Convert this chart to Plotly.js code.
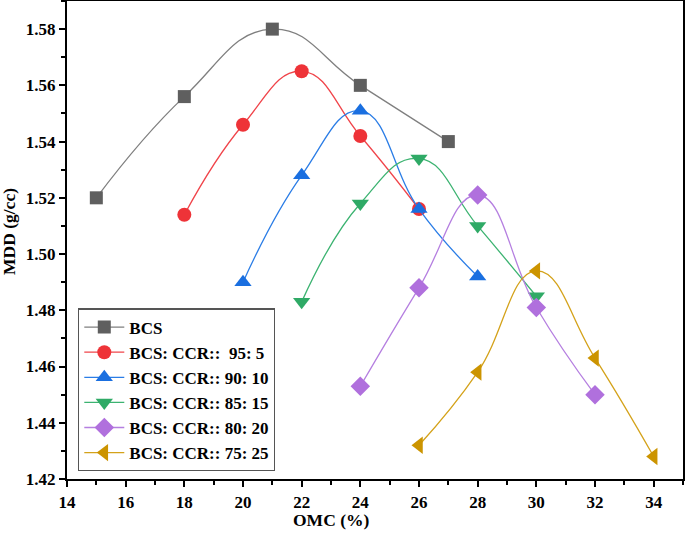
<!DOCTYPE html>
<html><head><meta charset="utf-8">
<script src="https://cdn.plot.ly/plotly-3.0.1.min.js"></script>
<style>html,body{margin:0;padding:0;background:#fff}#c{width:685px;height:535px}</style>
</head><body><div id="c"></div>
<script>
const names = ["BCS","BCS: CCR::  95: 5","BCS: CCR:: 90: 10","BCS: CCR:: 85: 15","BCS: CCR:: 80: 20","BCS: CCR:: 75: 25"];
const omc_bcs = [15,18,21,24,27];
const mdd_bcs = [1.520,1.556,1.580,1.560,1.540];
const omc_95 = [18,20,22,24,26];
const mdd_95 = [1.514,1.546,1.565,1.542,1.516];
const omc_90 = [20,22,24,26,28];
const mdd_90 = [1.490,1.528,1.551,1.516,1.492];
const omc_85 = [22,24,26,28,30];
const mdd_85 = [1.483,1.518,1.534,1.510,1.485];
const omc_80 = [24,26,28,30,32];
const mdd_80 = [1.453,1.488,1.521,1.481,1.450];
const omc_75 = [26,28,30,32,34];
const mdd_75 = [1.432,1.458,1.494,1.463,1.428];
const xTicks = [14,16,18,20,22,24,26,28,30,32,34];
const yTicks = [1.42,1.44,1.46,1.48,1.50,1.52,1.54,1.56,1.58];
const xTitle = 'OMC (%)';
const yTitle = 'MDD (g/cc)';

const xs = [omc_bcs,omc_95,omc_90,omc_85,omc_80,omc_75];
const ys = [mdd_bcs,mdd_95,mdd_90,mdd_85,mdd_80,mdd_75];
const lineColors = ["#7f7f7f","#f0444a","#2b7de6","#3cb371","#b57fe0","#d4a21a"];
const markerColors = ["#5f5f5f","#ee3338","#1a6fe0","#2faa66","#b070dd","#cc9400"];
const symbols = ["square","circle","triangle-up","triangle-down","diamond","triangle-left"];
const markerSizes = [13,14,15,15,15,15];

const traces = names.map((n,i)=>({
  x: xs[i], y: ys[i], name: n, type:'scatter', mode:'lines+markers',
  line:{shape:'spline', smoothing:1.3, color:lineColors[i], width:1.3},
  marker:{symbol:symbols[i], size:markerSizes[i], color:markerColors[i], line:{width:0}}
}));

const fam = '"Liberation Serif", "Times New Roman", serif';
const layout = {
  width:685, height:535,
  margin:{l:67, r:2, t:1, b:56},
  paper_bgcolor:'#fff', plot_bgcolor:'#fff',
  font: {family:fam, color:'#000', size:17},
  showlegend:true,
  legend:{x:0.018, y:0.357, xanchor:'left', yanchor:'top', bgcolor:'#fff', bordercolor:'#555', borderwidth:1.2,
    font:{family:fam, size:17, color:'#000', weight:'bold'}, tracegroupgap:0, itemwidth:40},
  xaxis:{range:[14,35], tickvals:xTicks, showgrid:false, zeroline:false,
    showline:true, linewidth:2.2, linecolor:'#000', mirror:true, ticks:'outside', ticklen:6, tickwidth:2, tickcolor:'#000',
    minor:{ticks:'outside', ticklen:4, tickwidth:2, tickcolor:'#000', dtick:1},
    tickfont:{family:fam, size:17, weight:'bold'}},
  yaxis:{range:[1.42,1.59], tickvals:yTicks, tickformat:'.2f', showgrid:false, zeroline:false,
    showline:true, linewidth:2.2, linecolor:'#000', mirror:true, ticks:'outside', ticklen:6, tickwidth:2, tickcolor:'#000',
    minor:{ticks:'outside', ticklen:4, tickwidth:2, tickcolor:'#000', dtick:0.01},
    tickfont:{family:fam, size:17, weight:'bold'}},
  annotations:[
    {text:xTitle, xref:'paper', yref:'paper', x:(331-67)/616, y:(479-520)/478, xanchor:'center', yanchor:'middle', showarrow:false,
      font:{family:fam, size:17.5, weight:'bold', color:'#000'}},
    {text:yTitle, xref:'paper', yref:'paper', x:(9-67)/616, y:(479-232)/478, xanchor:'center', yanchor:'middle', showarrow:false, textangle:-90,
      font:{family:fam, size:17.5, weight:'bold', color:'#000'}}
  ]
};
Plotly.newPlot('c', traces, layout, {displayModeBar:false, staticPlot:true});
</script></body></html>
